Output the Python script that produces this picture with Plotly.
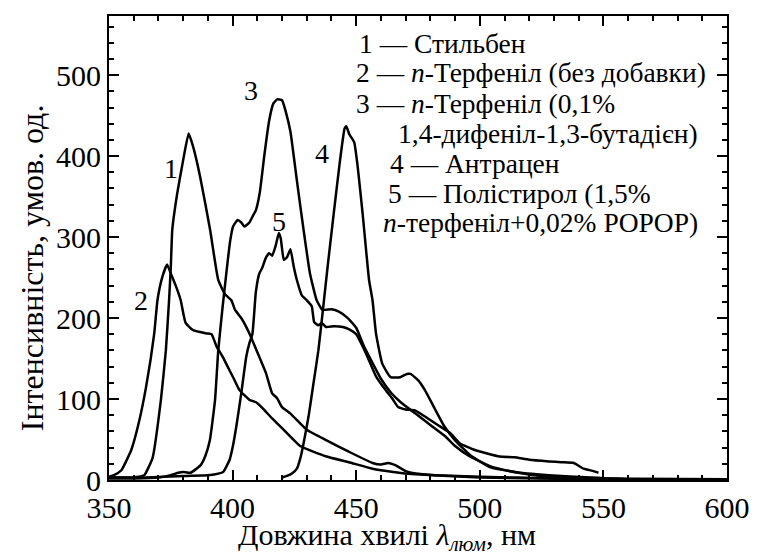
import plotly.graph_objects as go

# Luminescence spectra of organic scintillators (wavelength in nm, intensity in arb. units)
wl_stilbene = [350, 358, 362, 364.3, 367.6, 371, 373, 374.3, 375, 375.6, 377.6, 380, 382.2, 384,
               386.9, 390.9, 394.2, 397, 399.5, 401, 403.5, 406.8, 410.8, 413.5, 416, 418, 420,
               423.4, 430, 438, 447, 456.6, 460, 463, 466, 470, 474, 482, 500, 530, 560, 600]
int_stilbene = [3, 3, 4, 6, 27, 99, 160, 222, 263, 309, 354, 395, 428, 412,
                374, 309, 247, 229, 222, 210, 200, 181, 152, 132, 107, 101, 90,
                82, 62, 49, 35, 21, 19, 21, 18, 11, 8, 6, 4, 2, 1, 1]

wl_terph = [350, 352, 355, 359, 362, 365, 368.3, 369.6, 371.5, 373.5, 375, 377, 379, 381, 384,
            389.5, 391.5, 393.5, 396, 398, 400.5, 402.8, 406.8, 409.5, 412, 416, 420, 427.3,
            438, 447, 456.6, 465, 474, 500, 550, 600]
int_terph = [4, 6, 12, 37, 70, 115, 181, 222, 250, 266, 255, 240, 222, 194, 185,
             181, 180, 165, 152, 140, 125, 111, 99, 96, 89, 76, 64, 42,
             29, 22, 14, 10, 7, 3, 1, 1]

wl_terph_dpb = [350, 360, 370, 375, 378, 380, 383, 387, 389, 390.8, 392.9, 394.2, 396, 398, 399,
                400.2, 402, 403.5, 404.8, 406.8, 408, 409.4, 411, 412.8, 414.8, 416.5, 418, 420,
                421.5, 423.4, 426, 428.7, 431.3, 434, 436.4, 440, 443, 446.6, 450, 453, 456,
                460, 464, 468, 474, 480, 486, 490, 496, 505, 514, 528, 545, 560, 600]
int_terph_dpb = [2, 2, 3, 6, 9, 10, 9, 18, 30, 49, 99, 160, 215, 270, 295,
                 313, 321, 318, 313, 318, 325, 333, 355, 400, 444, 465, 470, 469,
                 455, 430, 370, 309, 255, 222, 210, 211, 208, 200, 188, 166, 148,
                 125, 108, 96, 82, 68, 54, 42, 29, 16, 10, 6, 3, 1, 1]

wl_anthr = [420, 422, 424, 426, 427.5, 428.7, 430.7, 432.7, 434.7, 436.6, 438.5, 440.6, 443.3,
            445.3, 446, 447.2, 449.2, 450.6, 452.6, 455.2, 456.6, 458, 460.5, 463.9, 467.8,
            470.5, 472, 475.1, 477.8, 481.8, 485.7, 490, 496, 504, 517.6, 527, 545, 600]
int_anthr = [3, 5, 8, 14, 28, 45, 78, 119, 160, 212, 265, 321, 391,
             434, 437, 427, 417, 387, 329, 247, 222, 181, 144, 127, 127,
             131, 131, 123, 111, 88, 66, 49, 31, 16, 8, 4, 2, 1]

wl_polyst = [350, 365, 380, 390, 393, 396.2, 398.8, 400, 401.5, 403.5, 405.5, 406.8, 408, 409.4,
             410.8, 412, 413.4, 414.8, 416, 417.4, 418.7, 419.5, 420.7, 422, 423.4, 424.7, 426,
             428, 430, 432, 433, 434.7, 436, 437.8, 441, 444.6, 447.2, 450, 454, 458, 461.9,
             464.5, 467, 470, 473.8, 479, 483, 488, 492, 498, 508, 514, 520, 528, 533, 538,
             542, 546, 548]
int_polyst = [3, 3, 5, 6, 7, 10, 25, 40, 66, 107, 152, 169, 180, 232,
              255, 262, 274, 280, 277, 289, 305, 298, 272, 275, 285, 264, 247,
              228, 222, 215, 195, 191, 194, 189, 190, 189, 186, 180, 156, 128, 111,
              101, 90, 87, 86, 76, 68, 58, 45, 37, 29, 28, 25, 23, 22, 21,
              14, 11, 9]

# Curve numbers and their label positions (nm, intensity)
curve_nums = ["1", "2", "3", "4", "5"]
num_x = [375.1, 363.0, 407.3, 436.0, 418.9]
num_y = [385, 222, 481, 403, 319]

legend_lines = [
    "1 — Стильбен",
    "2 — <i>n</i>-Терфеніл (без добавки)",
    "3 — <i>n</i>-Терфеніл (0,1%",
    "1,4-дифеніл-1,3-бутадієн)",
    "4 — Антрацен",
    "5 — Полістирол (1,5%",
    "<i>n</i>-терфеніл+0,02% POPOP)",
]
legend_x = [362, 359, 359, 402, 394, 391, 386]

FONT = "Liberation Serif"

fig = go.Figure()
for wl, it in [(wl_stilbene, int_stilbene), (wl_terph, int_terph),
               (wl_terph_dpb, int_terph_dpb), (wl_anthr, int_anthr),
               (wl_polyst, int_polyst)]:
    fig.add_trace(go.Scatter(x=wl, y=it, mode="lines",
                             line=dict(color="black", width=2.5, shape="spline", smoothing=0.4),
                             showlegend=False, hoverinfo="skip"))

for t, xx, yy in zip(curve_nums, num_x, num_y):
    fig.add_annotation(x=xx, y=yy, text=t, showarrow=False,
                       font=dict(family=FONT, size=28, color="black"))

# legend block, one annotation per line (positions in pixels of the page)
L, T, W, H = 109, 16, 628, 464
for i, (t, px) in enumerate(zip(legend_lines, legend_x)):
    py = 43 + 30 * i
    fig.add_annotation(xref="paper", yref="paper",
                       x=(px - L) / W, y=(T + H - py) / H,
                       xanchor="left", yanchor="middle", text=t, showarrow=False,
                       borderpad=0,
                       font=dict(family=FONT, size=27.5, color="black"))

# axis titles
fig.add_annotation(xref="paper", yref="paper", x=(392 - L) / W, y=(T + H - 537) / H,
                   xanchor="center", yanchor="middle", showarrow=False,
                   text="Довжина хвилі <i>λ</i><sub><i>люм</i></sub>, нм",
                   font=dict(family=FONT, size=30, color="black"))
fig.add_annotation(xref="paper", yref="paper", x=(31 - L) / W, y=(T + H - 268) / H,
                   xanchor="center", yanchor="middle", showarrow=False, textangle=-90,
                   text="Інтенсивність, умов. од.",
                   font=dict(family=FONT, size=32, color="black"))

axis_common = dict(showline=True, linecolor="black", linewidth=2, mirror="allticks",
                   ticks="inside", ticklen=10, tickwidth=1.5, tickcolor="black",
                   showgrid=False, zeroline=False,
                   tickfont=dict(family=FONT, size=30, color="black"))

fig.update_xaxes(range=[350, 600], tickmode="linear", tick0=350, dtick=50,
                 minor=dict(ticks="inside", ticklen=5, tickwidth=1.5, tickcolor="black",
                            dtick=10, showgrid=False),
                 **axis_common)
fig.update_yaxes(range=[0, 573], tickmode="linear", tick0=0, dtick=100,
                 minor=dict(ticks="inside", ticklen=5, tickwidth=1.5, tickcolor="black",
                            dtick=20, showgrid=False),
                 **axis_common)

fig.update_layout(width=762, height=560, margin=dict(l=L, r=762 - L - W, t=T, b=560 - T - H),
                  plot_bgcolor="white", paper_bgcolor="white",
                  font=dict(family=FONT, color="black"))

fig.write_html("out.html")
